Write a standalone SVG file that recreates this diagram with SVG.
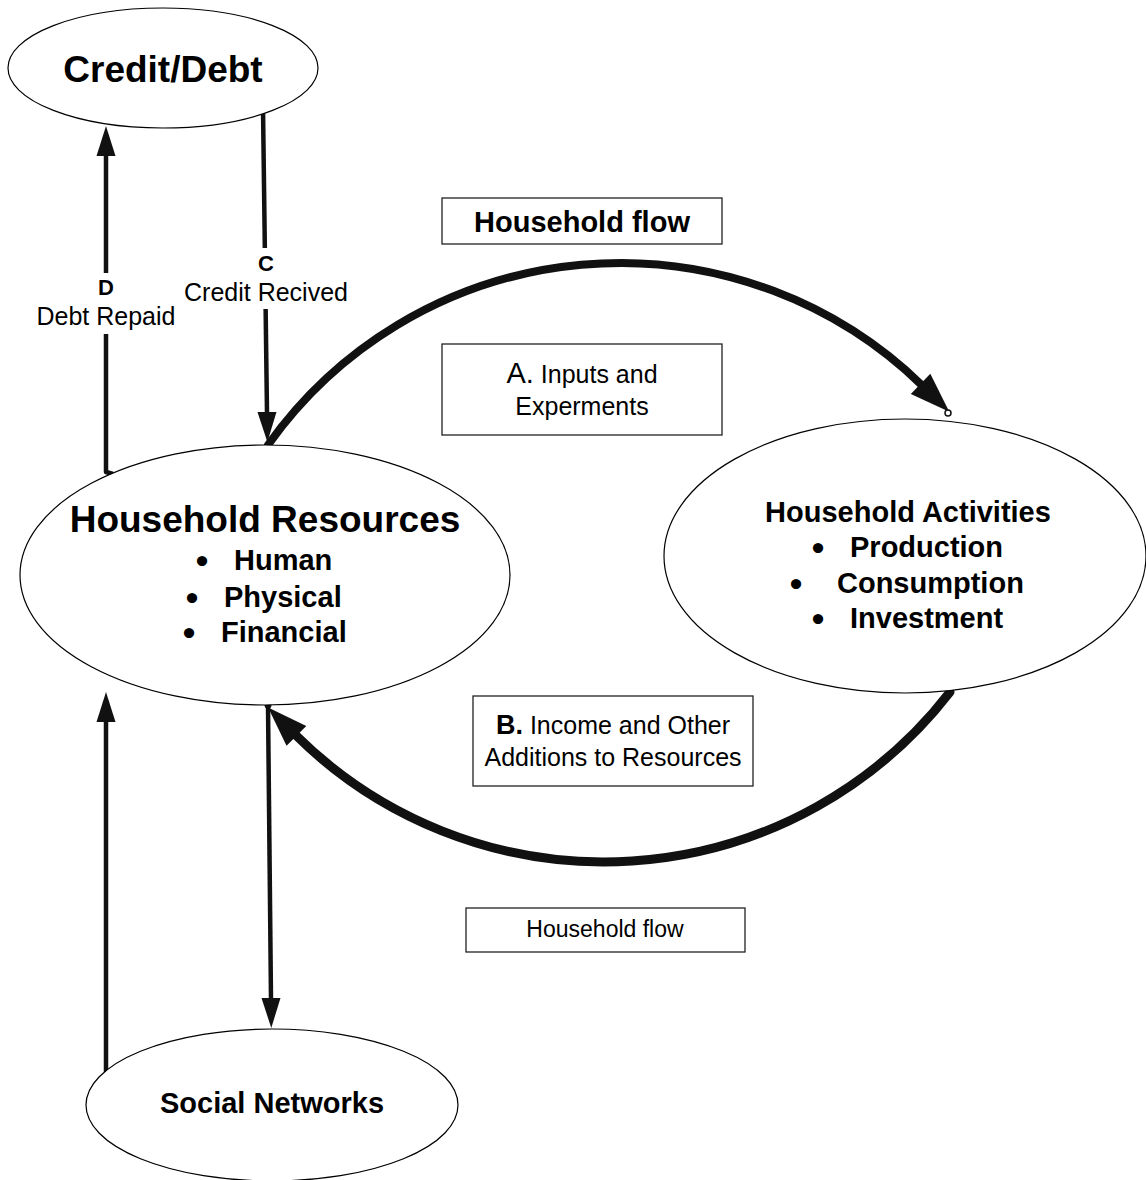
<svg xmlns="http://www.w3.org/2000/svg" width="1146" height="1180" viewBox="0 0 1146 1180">
<style>
.node ellipse{fill:#fff;stroke:#000;stroke-width:1.2}
.box rect{fill:#fff;stroke:#222;stroke-width:1.3}
text{font-family:"Liberation Sans",Arial,sans-serif;fill:#000}
.b{font-weight:bold}
.mid{text-anchor:middle}
.bul{font-family:"DejaVu Sans","Liberation Sans",sans-serif;font-weight:bold;text-anchor:middle;font-size:29px}
.thin{fill:none;stroke:#111;stroke-width:4.5}
.thick{fill:none;stroke:#111;stroke-linecap:round}
.lbg{fill:#fff;stroke:none}
</style>
<defs>
<marker id="ah" markerUnits="userSpaceOnUse" viewBox="-2 -10 32 20" markerWidth="32" markerHeight="20" refX="0" refY="0" orient="auto">
<path d="M-1,-9.5 L29,0 L-1,9.5 Z" fill="#111"/>
</marker>
<marker id="ahBig" markerUnits="userSpaceOnUse" viewBox="-3 -14 42 28" markerWidth="42" markerHeight="28" refX="0" refY="0" orient="auto">
<path d="M-2,-14 L38,0 L-2,14 Z" fill="#111"/>
</marker>
</defs>

<g id="connectors">
<path id="c-debt" class="thin" d="M113,474 L106,472 L106,155" stroke-linejoin="round" marker-end="url(#ah)"/>
<path id="c-credit" class="thin" d="M263,108 L267,413" marker-end="url(#ah)"/>
<path id="c-social-up" class="thin" d="M106,1072 L106,721" marker-end="url(#ah)"/>
<path id="c-social-down" class="thin" d="M268,705 L271,999" marker-end="url(#ah)"/>
<path id="c-flowA" class="thick" stroke-width="8" d="M268,445 A432.5,432.5 0 0 1 922,385.3" marker-end="url(#ahBig)"/>
<circle cx="948" cy="413" r="3" fill="#fff" stroke="#111" stroke-width="1.5"/>
<path id="c-flowB" class="thick" stroke-width="9" d="M950,692 A437.5,437.5 0 0 1 295,734.4" marker-end="url(#ahBig)"/>
<circle cx="268" cy="705" r="3.5" fill="#111"/>
</g>

<g id="label-C">
<rect class="lbg" x="180" y="248" width="172" height="61"/>
<text class="b mid" x="266" y="271" font-size="22">C</text>
<text class="mid" x="266" y="301" font-size="25">Credit Recived</text>
</g>
<g id="label-D">
<rect class="lbg" x="34" y="273" width="146" height="61"/>
<text class="b mid" x="106" y="295" font-size="22">D</text>
<text class="mid" x="106" y="325" font-size="25">Debt Repaid</text>
</g>

<g id="credit-debt" class="node">
<ellipse cx="163" cy="68" rx="155" ry="60"/>
<text class="b mid" x="163" y="82" font-size="37">Credit/Debt</text>
</g>

<g id="household-resources" class="node">
<ellipse cx="265" cy="575" rx="245" ry="130"/>
<text class="b mid" x="265" y="532" font-size="37">Household Resources</text>
<text class="bul"><tspan x="202" y="572">•</tspan><tspan x="192" y="609">•</tspan><tspan x="189" y="644">•</tspan></text>
<text class="b" font-size="29"><tspan x="234" y="570">Human</tspan><tspan x="224" y="607">Physical</tspan><tspan x="221" y="642">Financial</tspan></text>
</g>

<g id="household-activities" class="node">
<ellipse cx="905" cy="556" rx="241" ry="137"/>
<text class="b mid" x="908" y="522" font-size="29">Household Activities</text>
<text class="bul"><tspan x="818" y="559">•</tspan><tspan x="796" y="595">•</tspan><tspan x="818" y="630">•</tspan></text>
<text class="b" font-size="29"><tspan x="850" y="557">Production</tspan><tspan x="837" y="593">Consumption</tspan><tspan x="850" y="628">Investment</tspan></text>
</g>

<g id="social-networks" class="node">
<ellipse cx="272" cy="1105" rx="186" ry="76"/>
<text class="b mid" x="272" y="1113" font-size="29">Social Networks</text>
</g>

<g id="box-flow-top" class="box">
<rect x="442" y="198" width="280" height="46"/>
<text class="b mid" x="582" y="232" font-size="29">Household flow</text>
</g>

<g id="box-A" class="box">
<rect x="442" y="344" width="280" height="91"/>
<text class="mid" x="582" y="383" font-size="25"><tspan font-size="29">A.</tspan> Inputs and</text>
<text class="mid" x="582" y="415" font-size="25">Experments</text>
</g>

<g id="box-B" class="box">
<rect x="473" y="696" width="280" height="90"/>
<text class="mid" x="613" y="734" font-size="25"><tspan class="b" font-size="27">B.</tspan> Income and Other</text>
<text class="mid" x="613" y="766" font-size="25">Additions to Resources</text>
</g>

<g id="box-flow-bottom" class="box">
<rect x="466" y="908" width="279" height="44"/>
<text class="mid" x="605" y="937" font-size="23">Household flow</text>
</g>
</svg>
